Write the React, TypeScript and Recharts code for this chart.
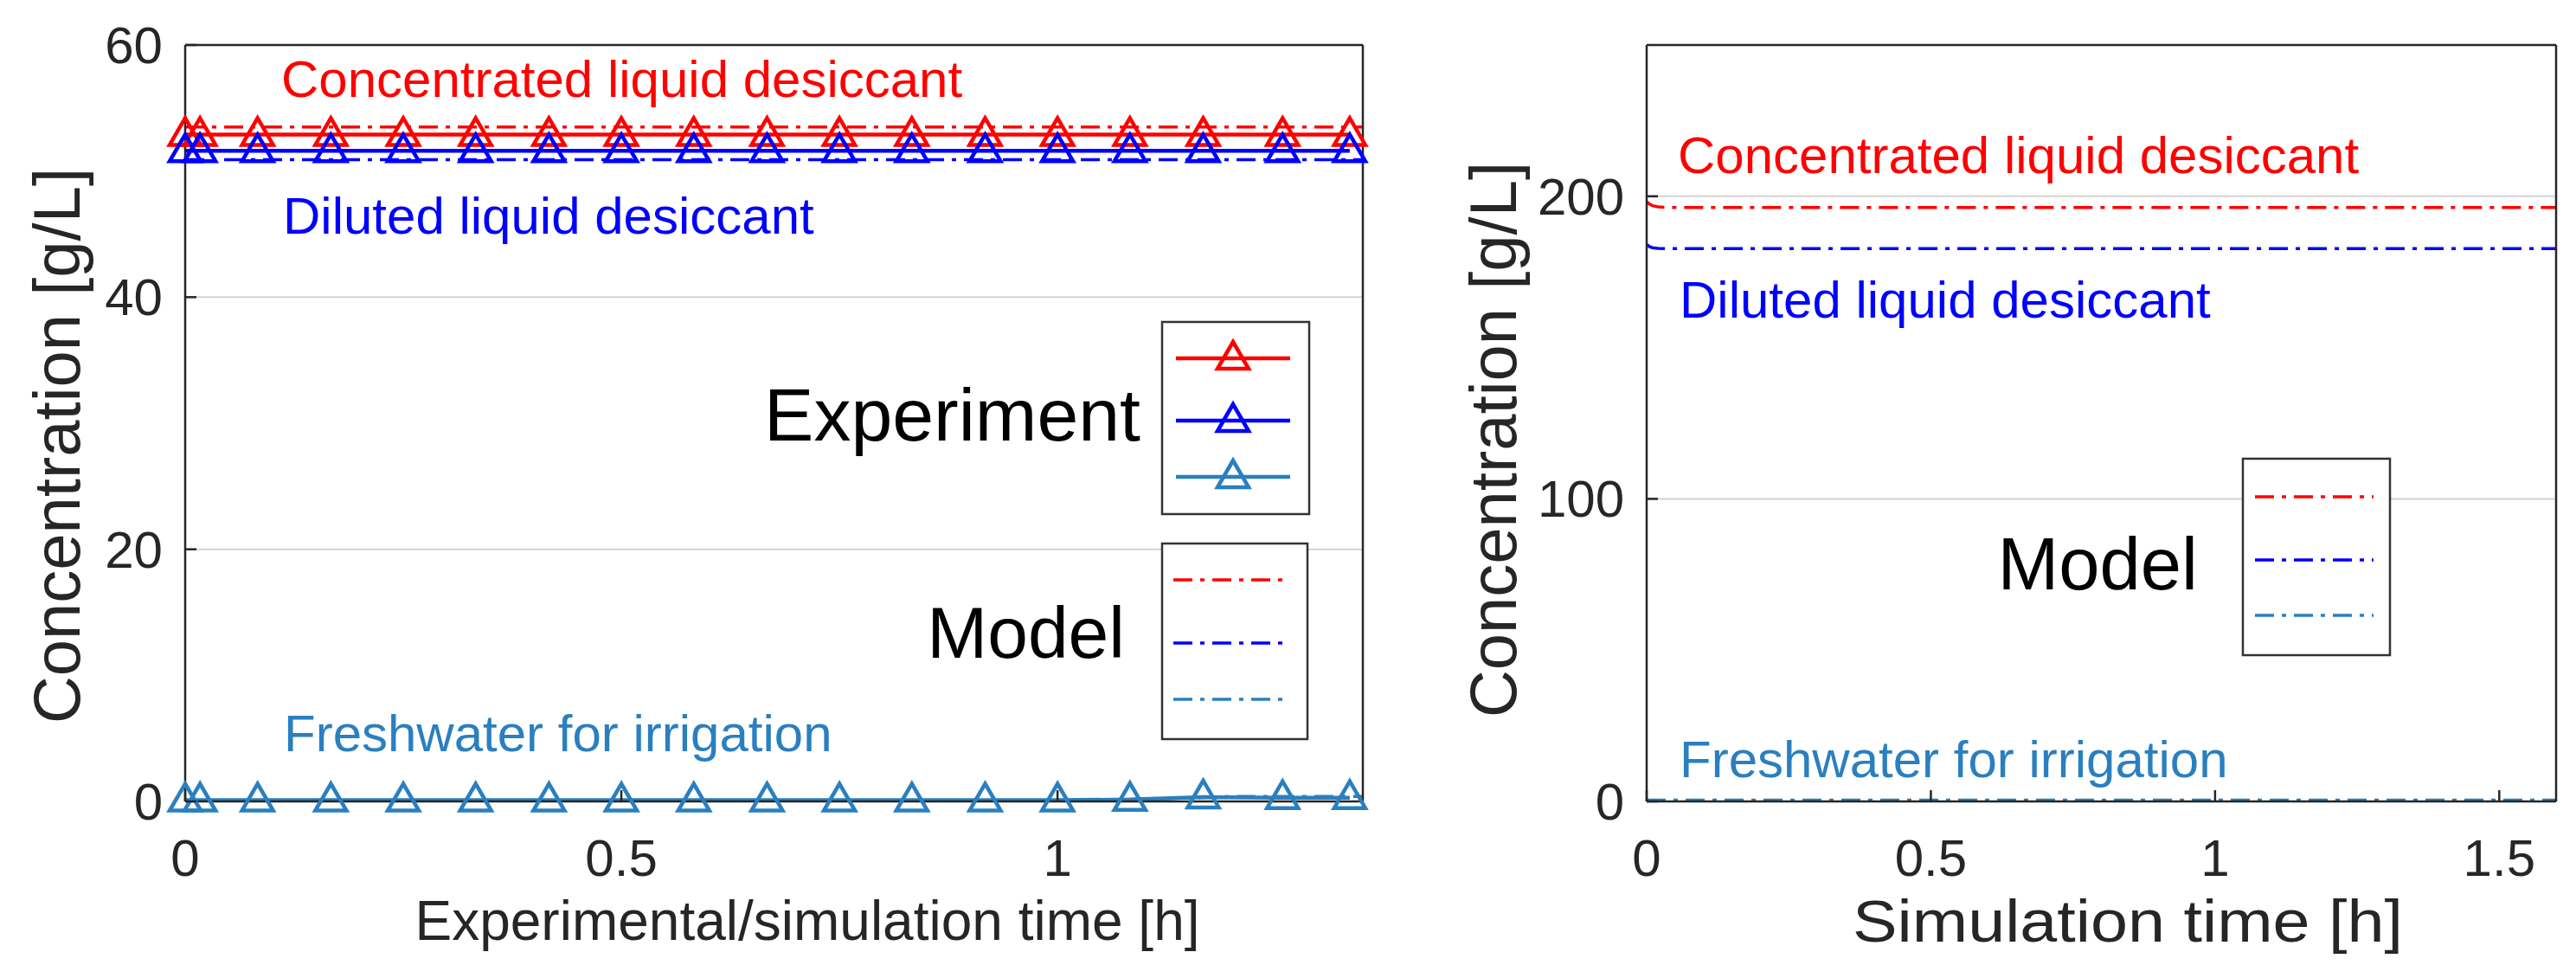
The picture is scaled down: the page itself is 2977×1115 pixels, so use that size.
import React from "react";
import { CartesianGrid, Line, LineChart, XAxis, YAxis } from "recharts";

// experiment (left panel), time in hours
const expTime = [0, 0.017, 0.083, 0.167, 0.25, 0.333, 0.417, 0.5, 0.583, 0.667, 0.75, 0.833, 0.917, 1.0, 1.083, 1.167, 1.258, 1.335];
const expConcentrated = [52.9, 52.9, 52.9, 52.9, 52.9, 52.9, 52.9, 52.9, 52.9, 52.9, 52.9, 52.9, 52.9, 52.9, 52.9, 52.9, 52.9, 52.9];
const expDiluted = [51.6, 51.6, 51.6, 51.6, 51.6, 51.6, 51.6, 51.6, 51.6, 51.6, 51.6, 51.6, 51.6, 51.6, 51.6, 51.6, 51.6, 51.6];
const expFreshwater = [0.1, 0.1, 0.1, 0.1, 0.1, 0.1, 0.1, 0.1, 0.1, 0.1, 0.1, 0.1, 0.1, 0.1, 0.15, 0.35, 0.3, 0.3];

// model (left panel)
const modelTimeLeft = [0, 0.25, 0.5, 0.75, 1.0, 1.083, 1.2, 1.35];
const modelConcentratedLeft = [53.5, 53.5, 53.5, 53.5, 53.5, 53.5, 53.5, 53.5];
const modelDilutedLeft = [50.9, 50.9, 50.9, 50.9, 50.9, 50.9, 50.9, 50.9];
const modelFreshwaterLeft = [0.05, 0.05, 0.05, 0.05, 0.05, 0.1, 0.4, 0.4];

// model (right panel)
const modelTimeRight = [0, 0.005, 0.01, 0.02, 0.04, 0.5, 1.0, 1.6];
const modelConcentratedRight = [198.2, 197.4, 196.9, 196.5, 196.3, 196.3, 196.3, 196.3];
const modelDilutedRight = [184.0, 183.4, 183.0, 182.8, 182.7, 182.7, 182.7, 182.7];
const modelFreshwaterRight = [0.4, 0.4, 0.4, 0.4, 0.4, 0.4, 0.4, 0.4];

const leftXTicks = [0, 0.5, 1];
const leftYTicks = [0, 20, 40, 60];
const rightXTicks = [0, 0.5, 1, 1.5];
const rightYTicks = [0, 100, 200];

const RED = "#ff0000";
const BLUE = "#0000ff";
const LIGHT = "#2a7fbf";
const AXIS = "#262626";
const FONT = "'Liberation Sans', Arial, Helvetica, sans-serif";
const DASHDOT = "22 9 5 9";

const pts = (t: number[], v: number[]) => t.map((x, i) => ({ t: x, c: v[i] }));

const triangle = (color: string) => (p: any) => {
  const { cx, cy, index } = p;
  return (
    <path
      key={index}
      d={`M${cx},${cy - 19} L${cx - 18},${cy + 12} L${cx + 18},${cy + 12} Z`}
      fill="none"
      stroke={color}
      strokeWidth={4.5}
    />
  );
};

type Series = { data: { t: number; c: number }[]; color: string; dashed: boolean };

type PanelProps = {
  left: number;
  width: number;
  plot: { top: number; right: number; bottom: number; left: number };
  xDomain: [number, number];
  yDomain: [number, number];
  xTicks: number[];
  yTicks: number[];
  series: Series[];
};

const H = 1115;
const TICK = 13;

function Panel({ left, width, plot, xDomain, yDomain, xTicks, yTicks, series }: PanelProps) {
  // plot = pixel edges of the plotting box inside this panel
  const margin = { top: plot.top - 1, bottom: H - plot.bottom - 1, left: plot.left - 1, right: width - plot.right - 1 };

  const bottomTick = (p: any) => (
    <g>
      <line x1={p.x} x2={p.x} y1={plot.bottom} y2={plot.bottom - TICK} stroke={AXIS} strokeWidth={2.5} />
      <text x={p.x} y={plot.bottom + 86} textAnchor="middle" fontSize={60} fontFamily={FONT} fill={AXIS}>
        {String(p.payload.value)}
      </text>
    </g>
  );
  const topTick = (p: any) => (
    <line x1={p.x} x2={p.x} y1={plot.top} y2={plot.top + TICK} stroke={AXIS} strokeWidth={2.5} />
  );
  const leftTick = (p: any) => (
    <g>
      <line x1={plot.left} x2={plot.left + TICK} y1={p.y} y2={p.y} stroke={AXIS} strokeWidth={2.5} />
      <text x={plot.left - 26} y={p.y + 21} textAnchor="end" fontSize={60} fontFamily={FONT} fill={AXIS}>
        {String(p.payload.value)}
      </text>
    </g>
  );
  const rightTick = (p: any) => (
    <line x1={plot.right} x2={plot.right - TICK} y1={p.y} y2={p.y} stroke={AXIS} strokeWidth={2.5} />
  );
  const axisLine = { stroke: AXIS, strokeWidth: 2.5 };

  return (
    <div style={{ position: "absolute", left, top: 0 }}>
      <LineChart width={width} height={H} margin={margin}>
        <CartesianGrid xAxisId="b" yAxisId="l" vertical={false} stroke="#d4d4d4" strokeWidth={2} />
        <XAxis xAxisId="b" type="number" dataKey="t" domain={xDomain} ticks={xTicks} height={1}
          axisLine={axisLine} tickLine={false} tick={bottomTick} interval={0} />
        <XAxis xAxisId="t" orientation="top" type="number" dataKey="t" domain={xDomain} ticks={xTicks} height={1}
          axisLine={axisLine} tickLine={false} tick={topTick} interval={0} />
        <YAxis yAxisId="l" type="number" domain={yDomain} ticks={yTicks} width={1}
          axisLine={axisLine} tickLine={false} tick={leftTick} interval={0} />
        <YAxis yAxisId="r" orientation="right" type="number" domain={yDomain} ticks={yTicks} width={1}
          axisLine={axisLine} tickLine={false} tick={rightTick} interval={0} />
        {series.map((s, i) => (
          <Line
            key={i}
            xAxisId="b"
            yAxisId="l"
            data={s.data}
            dataKey="c"
            type="linear"
            stroke={s.color}
            strokeWidth={s.dashed ? 3.5 : 4.5}
            strokeDasharray={s.dashed ? DASHDOT : undefined}
            dot={s.dashed ? false : triangle(s.color)}
            activeDot={false}
            isAnimationActive={false}
          />
        ))}
      </LineChart>
    </div>
  );
}

const txt = { fontFamily: FONT } as const;

function LegendLine({ x1, x2, y, color, marker }: { x1: number; x2: number; y: number; color: string; marker: boolean }) {
  const cx = (x1 + x2) / 2;
  return (
    <g>
      <line x1={x1} x2={x2} y1={y} y2={y} stroke={color} strokeWidth={marker ? 4.5 : 3.5}
        strokeDasharray={marker ? undefined : DASHDOT} />
      {marker && (
        <path d={`M${cx},${y - 19} L${cx - 18},${y + 12} L${cx + 18},${y + 12} Z`} fill="none" stroke={color} strokeWidth={4.5} />
      )}
    </g>
  );
}

function Overlay() {
  return (
    <svg width={2977} height={H} style={{ position: "absolute", left: 0, top: 0, pointerEvents: "none" }}>
      {/* left panel */}
      <text x={325} y={112} fontSize={60} fill={RED} style={txt}>Concentrated liquid desiccant</text>
      <text x={327} y={270} fontSize={60} fill={BLUE} style={txt}>Diluted liquid desiccant</text>
      <text x={328} y={868} fontSize={60} fill={LIGHT} style={txt}>Freshwater for irrigation</text>

      <text x={1318} y={509} fontSize={86} textAnchor="end" fill="#000" style={txt}>Experiment</text>
      <rect x={1343} y={372} width={170} height={222} fill="#fff" stroke="#333" strokeWidth={2.5} />
      <LegendLine x1={1359} x2={1491} y={414} color={RED} marker />
      <LegendLine x1={1359} x2={1491} y={486} color={BLUE} marker />
      <LegendLine x1={1359} x2={1491} y={551} color={LIGHT} marker />

      <text x={1300} y={760} fontSize={84} textAnchor="end" fill="#000" style={txt}>Model</text>
      <rect x={1343} y={628} width={168} height={226} fill="#fff" stroke="#333" strokeWidth={2.5} />
      <LegendLine x1={1356} x2={1491} y={670} color={RED} marker={false} />
      <LegendLine x1={1356} x2={1491} y={743} color={BLUE} marker={false} />
      <LegendLine x1={1356} x2={1491} y={808} color={LIGHT} marker={false} />

      <text x={92} y={515} fontSize={76} textAnchor="middle" fill={AXIS} style={txt} transform="rotate(-90 92 515)">
        Concentration [g/L]
      </text>
      <text x={933} y={1086} fontSize={64} textAnchor="middle" fill={AXIS} style={txt}>
        Experimental/simulation time [h]
      </text>

      {/* right panel */}
      <text x={1939} y={200} fontSize={60} fill={RED} style={txt}>Concentrated liquid desiccant</text>
      <text x={1941} y={367} fontSize={60} fill={BLUE} style={txt}>Diluted liquid desiccant</text>
      <text x={1941} y={898} fontSize={60} fill={LIGHT} style={txt}>Freshwater for irrigation</text>

      <text x={2540} y={681} fontSize={85} textAnchor="end" fill="#000" style={txt}>Model</text>
      <rect x={2592} y={530} width={170} height={227} fill="#fff" stroke="#333" strokeWidth={2.5} />
      <LegendLine x1={2606} x2={2743} y={574} color={RED} marker={false} />
      <LegendLine x1={2606} x2={2743} y={647} color={BLUE} marker={false} />
      <LegendLine x1={2606} x2={2743} y={711} color={LIGHT} marker={false} />

      <text x={1752} y={508} fontSize={76} textAnchor="middle" fill={AXIS} style={txt} transform="rotate(-90 1752 508)">
        Concentration [g/L]
      </text>
      <text x={2459} y={1088} fontSize={68} textAnchor="middle" textLength={636} lengthAdjust="spacingAndGlyphs"
        fill={AXIS} style={txt}>
        Simulation time [h]
      </text>
    </svg>
  );
}

export default function App() {
  const leftSeries: Series[] = [
    { data: pts(expTime, expConcentrated), color: RED, dashed: false },
    { data: pts(expTime, expDiluted), color: BLUE, dashed: false },
    { data: pts(expTime, expFreshwater), color: LIGHT, dashed: false },
    { data: pts(modelTimeLeft, modelConcentratedLeft), color: RED, dashed: true },
    { data: pts(modelTimeLeft, modelDilutedLeft), color: BLUE, dashed: true },
    { data: pts(modelTimeLeft, modelFreshwaterLeft), color: LIGHT, dashed: true },
  ];
  const rightSeries: Series[] = [
    { data: pts(modelTimeRight, modelConcentratedRight), color: RED, dashed: true },
    { data: pts(modelTimeRight, modelDilutedRight), color: BLUE, dashed: true },
    { data: pts(modelTimeRight, modelFreshwaterRight), color: LIGHT, dashed: true },
  ];

  return (
    <div style={{ position: "absolute", left: 0, top: 0, width: 2977, height: H, background: "#fff", overflow: "hidden" }}>
      <Panel
        left={0}
        width={1700}
        plot={{ top: 52, bottom: 926, left: 214, right: 1575 }}
        xDomain={[0, 1.35]}
        yDomain={[0, 60]}
        xTicks={leftXTicks}
        yTicks={leftYTicks}
        series={leftSeries}
      />
      <Panel
        left={1650}
        width={1327}
        plot={{ top: 52, bottom: 926, left: 253, right: 1304 }}
        xDomain={[0, 1.6]}
        yDomain={[0, 250]}
        xTicks={rightXTicks}
        yTicks={rightYTicks}
        series={rightSeries}
      />
      <Overlay />
    </div>
  );
}
